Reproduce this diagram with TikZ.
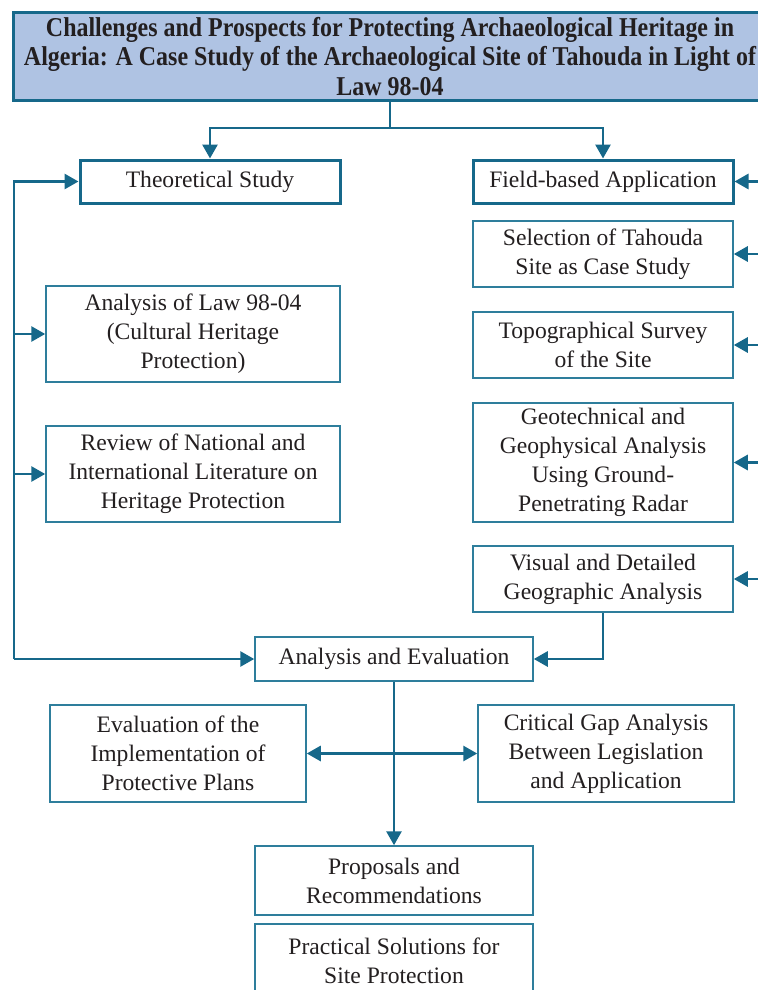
\documentclass[tikz,border=0pt]{standalone}
\usepackage{fontspec}
\setmainfont{Liberation Serif}
\newfontfamily\titlefont[FakeStretch=0.88]{Liberation Serif}
\usetikzlibrary{arrows.meta}
\definecolor{lnk}{HTML}{16688A}
\definecolor{bdr}{HTML}{2E7E9C}
\definecolor{tfill}{HTML}{AFC3E3}
\definecolor{txt}{HTML}{231F20}
\tikzset{
  box/.style={draw=bdr, line width=0.75pt, fill=white, align=center, inner sep=0pt, text=txt,
    font=\fontsize{11.8}{14.5}\selectfont},
  tbox/.style={box, draw=lnk, line width=1.5pt},
  conn/.style={draw=lnk, line width=1.4pt},
  arr/.style={conn, -{Triangle[length=7pt,width=7.5pt]}},
  darr/.style={conn, {Triangle[length=7pt,width=7.5pt]}-{Triangle[length=7pt,width=7.5pt]}},
}
\begin{document}
\begin{tikzpicture}[x=0.5pt,y=-0.5pt]
\useasboundingbox (0,0) rectangle (758,990);
\clip (0,0) rectangle (758,990);

\node[tbox, fill=tfill, minimum width=377pt, minimum height=44pt,
  font=\titlefont\bfseries\fontsize{13.6}{14.75}\selectfont] (title) at (390,56.5)
  {Challenges and Prospects for Protecting Archaeological Heritage in\\
   Algeria: A Case Study of the Archaeological Site of Tahouda in Light of\\
   Law 98-04};

\node[tbox, minimum width=130pt, minimum height=21.5pt] (ts) at (210,181.5) {Theoretical Study};
\node[tbox, minimum width=130pt, minimum height=21.5pt] (fa) at (603,181.5) {Field-based Application};

\node[box, minimum width=130pt, minimum height=33pt] (sel) at (603,254) {Selection of Tahouda\\Site as Case Study};
\node[box, minimum width=130pt, minimum height=33pt] (topo) at (603,345) {Topographical Survey\\of the Site};
\node[box, minimum width=130pt, minimum height=59.5pt] (geo) at (603,462.5) {Geotechnical and\\Geophysical Analysis\\Using Ground-\\Penetrating Radar};
\node[box, minimum width=130pt, minimum height=33pt] (vis) at (603,579) {Visual and Detailed\\Geographic Analysis};

\node[box, minimum width=147pt, minimum height=48pt] (law) at (193,334) {Analysis of Law 98-04\\(Cultural Heritage\\Protection)};
\node[box, minimum width=147pt, minimum height=48pt] (rev) at (193,474) {Review of National and\\International Literature on\\Heritage Protection};

\node[box, minimum width=139pt, minimum height=22pt] (ae) at (394,659) {Analysis and Evaluation};
\node[box, minimum width=128pt, minimum height=48.5pt] (ev) at (178,753.5) {Evaluation of the\\Implementation of\\Protective Plans};
\node[box, minimum width=128pt, minimum height=48.5pt] (cg) at (606,753.5) {Critical Gap Analysis\\Between Legislation\\and Application};

\node[box, minimum width=139pt, minimum height=34.5pt] (prop) at (394,880.5) {Proposals and\\Recommendations};
\node[box, minimum width=139pt, minimum height=37pt, anchor=north] (prac) at (394,923) {Practical Solutions for\\Site Protection};

% title split
\coordinate (tj) at (390,128);
\draw[conn] (title.south) -- (tj);
\draw[arr] (tj) -| (ts.north);
\draw[arr] (tj) -| (fa.north);

% left spine
\coordinate (spine) at (14,0);
\draw[arr] (spine |- ae.west) |- (ts.west);
\draw[arr] (spine |- ae.west) -- (ae.west);
\draw[arr] (spine |- law.west) -- (law.west);
\draw[arr] (spine |- rev.west) -- (rev.west);

% right edge arrows
\coordinate (edge) at (790,0);
\draw[arr] (edge |- fa.east) -- (fa.east);
\draw[arr] (edge |- sel.east) -- (sel.east);
\draw[arr] (edge |- topo.east) -- (topo.east);
\draw[arr] (edge |- geo.east) -- (geo.east);
\draw[arr] (edge |- vis.east) -- (vis.east);

% visual to analysis
\draw[arr] (vis.south) |- (ae.east);

% analysis down
\draw[arr] (ae.south) -- (prop.north);
\draw[darr] (ev.east) -- (cg.west);
\end{tikzpicture}
\end{document}
